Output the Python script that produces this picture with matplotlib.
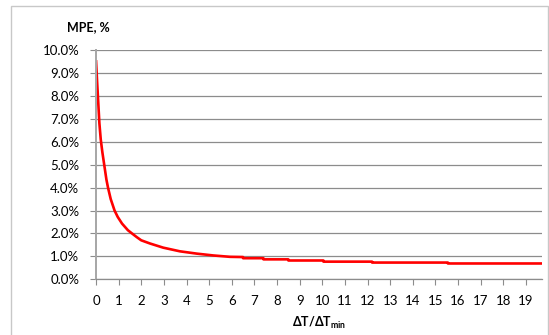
import matplotlib
matplotlib.use("Agg")
import matplotlib.pyplot as plt
from matplotlib.patches import Rectangle

# values (x = dT/dTmin, y = MPE in %)
ratio = [0, 0.05, 0.10, 0.15, 0.21, 0.28, 0.37, 0.46, 0.53, 0.65, 0.82,
         0.96, 1.15, 1.41, 1.59, 1.80, 2.0, 2.39, 2.97, 3.71, 4.45, 5.18,
         5.92, 6.5, 6.5, 7.4, 7.4, 8.5, 8.5, 10.05, 10.05, 12.2, 12.2,
         15.55, 15.55, 19.75]
mpe = [9.56, 8.6, 7.7, 6.8, 6.1, 5.55, 4.95, 4.35, 4.0, 3.5, 3.0,
       2.72, 2.43, 2.14, 2.0, 1.84, 1.70, 1.56, 1.38, 1.22, 1.12, 1.04,
       0.98, 0.97, 0.92, 0.92, 0.87, 0.87, 0.82, 0.82, 0.77, 0.77, 0.73,
       0.73, 0.69, 0.69]
x_ticks = list(range(0, 20))
y_ticks = [i * 1.0 for i in range(11)]

plt.rcParams['font.family'] = ['Lato', 'DejaVu Sans']
plt.rcParams['mathtext.fontset'] = 'custom'
plt.rcParams['mathtext.rm'] = 'Lato:bold'

fig = plt.figure(figsize=(5.49, 3.35), dpi=100)
fig.patches.append(Rectangle((11/549, -0.01), 537/549, 1 - 6/335 + 0.01,
                             transform=fig.transFigure, fill=False,
                             edgecolor='#c8c8c8', linewidth=1))
ax = fig.add_axes([96/549, 1 - 279.3/335, 446/549, 229.3/335])

ax.plot(ratio, mpe, color='#ff0000', linewidth=1.9, solid_joinstyle='round',
        solid_capstyle='butt')

ax.set_xlim(0, 19.71)
ax.set_ylim(0, 10)
ax.set_xticks(x_ticks)
ax.set_yticks(y_ticks)
ax.set_yticklabels(["{:.1f}%".format(v) for v in y_ticks])
ax.grid(axis='y', color='#8c8c8c', linewidth=0.9)
ax.set_axisbelow(True)
for s in ['top', 'right']:
    ax.spines[s].set_visible(False)
ax.spines['left'].set_color('#a6a6a6')
ax.spines['left'].set_linewidth(1.4)
ax.spines['bottom'].set_color('#8c8c8c')
ax.spines['bottom'].set_linewidth(0.9)
ax.tick_params(axis='y', direction='out', length=4, color='#8c8c8c',
               labelsize=9.5, pad=8)
ax.tick_params(axis='x', direction='out', length=4, color='#8c8c8c',
               labelsize=9.5, pad=7)

fig.text(88/549, 1 - 27/335, "MPE, %", ha='center', va='center',
         fontsize=9, fontweight='bold')
fig.text(319/549, 1 - 323/335, r"ΔT/ΔT$_{\mathrm{min}}$", ha='center',
         va='center', fontsize=9, fontweight='bold')

fig.savefig("out.png", dpi=100)
